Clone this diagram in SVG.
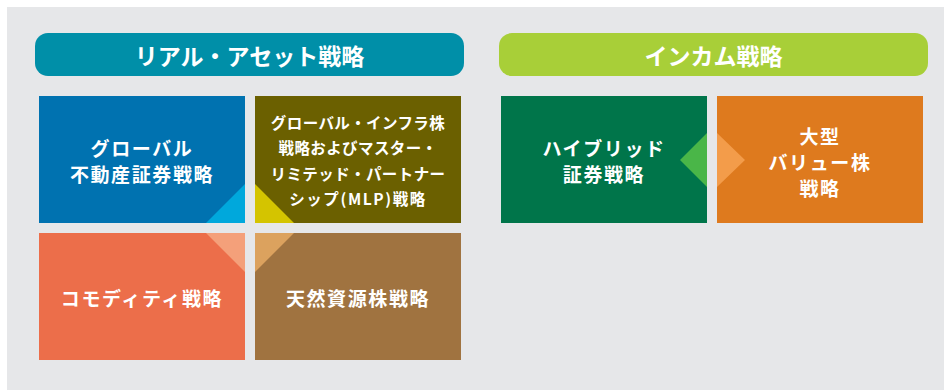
<svg xmlns="http://www.w3.org/2000/svg" width="944" height="390" viewBox="0 0 944 390">
<style>
.t{font-family:"Noto Sans CJK JP","Noto Sans",sans-serif;font-weight:700;fill:#fff;text-anchor:middle;dominant-baseline:central}
.h{font-size:23px}
.b{font-size:19px;letter-spacing:1.6px}
.s{font-size:15.5px;letter-spacing:0.4px}
</style>
<rect x="0" y="0" width="944" height="390" fill="#ffffff"/>
<rect x="7" y="7" width="937" height="383" fill="#e6e7e9"/>
<g id="header-real">
<rect x="35" y="33" width="429" height="43" rx="13" fill="#008fa8"/>
<text class="t h" x="249.5" y="55">リアル・アセット戦略</text>
</g>
<g id="header-income">
<rect x="499" y="33" width="429" height="43" rx="13" fill="#a8cf38"/>
<text class="t h" x="713.5" y="55">インカム戦略</text>
</g>
<g id="global-reit">
<rect x="39" y="96" width="206" height="127" fill="#0072b0"/>
<polygon points="206,223 245,223 245,184" fill="#00a8dc"/>
<text class="t b" x="142" y="147">グローバル</text>
<text class="t b" x="142" y="173">不動産証券戦略</text>
</g>
<g id="global-infra">
<rect x="255" y="96" width="206" height="127" fill="#6b6000"/>
<polygon points="255,184 255,223 294,223" fill="#d4c400"/>
<text class="t s" x="358" y="122">グローバル・インフラ株</text>
<text class="t s" x="358" y="147">戦略およびマスター・</text>
<text class="t s" x="358" y="173">リミテッド・パートナー</text>
<text class="t s" x="358" y="198" style="letter-spacing:1.6px">シップ(MLP)戦略</text>
</g>
<g id="commodity">
<rect x="39" y="233" width="206" height="127" fill="#ec6e4a"/>
<polygon points="206,233 245,233 245,272" fill="#f4a07a"/>
<text class="t b" x="142" y="297">コモディティ戦略</text>
</g>
<g id="natural-resources">
<rect x="255" y="233" width="206" height="127" fill="#a07340"/>
<polygon points="255,233 294,233 255,272" fill="#dca25e"/>
<text class="t b" x="358" y="297">天然資源株戦略</text>
</g>
<g id="hybrid">
<rect x="501" y="96" width="206" height="127" fill="#00754a"/>
<text class="t b" x="604" y="147">ハイブリッド</text>
<text class="t b" x="604" y="173">証券戦略</text>
</g>
<g id="large-value">
<rect x="717" y="96" width="206" height="127" fill="#de7a1e"/>
<text class="t b" x="820" y="135">大型</text>
<text class="t b" x="820" y="161">バリュー株</text>
<text class="t b" x="820" y="187">戦略</text>
</g>
<g id="connectors">
<polygon points="707,133 707,187 680,160" fill="#4ab648"/>
<polygon points="717,133 717,187 745,160" fill="#f39c4a"/>
</g>
</svg>
